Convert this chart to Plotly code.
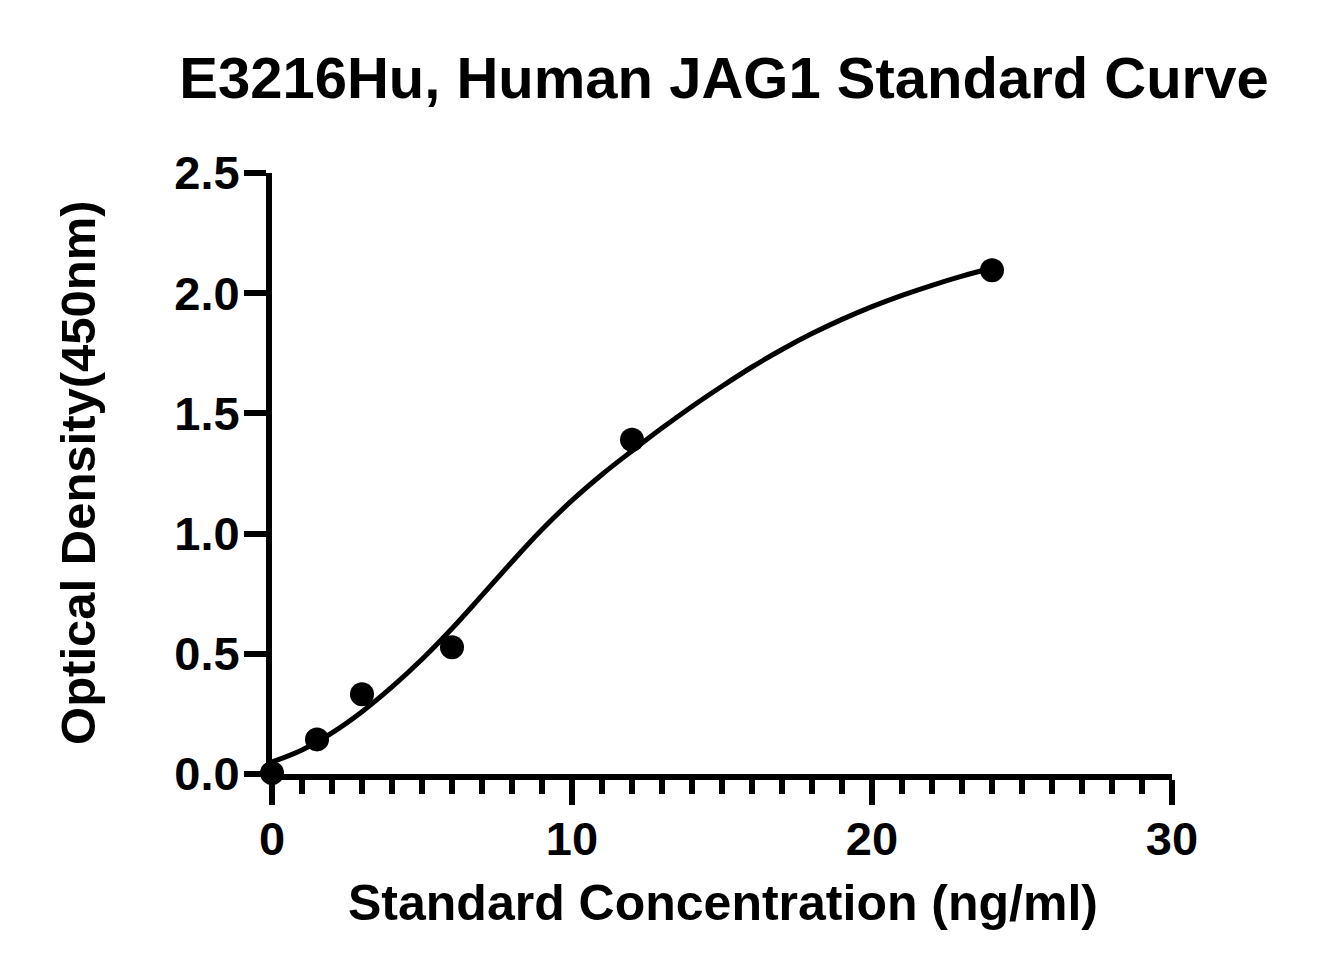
import plotly.graph_objects as go

# Measured standards
conc = [0, 1.5, 3, 6, 12, 24]
od = [0.004, 0.144, 0.332, 0.527, 1.39, 2.095]

# Fitted curve (one reading per unit of concentration)
curve_x = list(range(0, 25))
curve_y = [0.05, 0.100, 0.171, 0.259, 0.362, 0.477, 0.605, 0.743, 0.883, 1.017,
           1.138, 1.246, 1.344, 1.439, 1.529, 1.613, 1.693, 1.766, 1.832, 1.891,
           1.944, 1.991, 2.033, 2.071, 2.105]

x_ticks = [0, 10, 20, 30]
y_ticks = [0.0, 0.5, 1.0, 1.5, 2.0, 2.5]
y_tick_text = ["0.0", "0.5", "1.0", "1.5", "2.0", "2.5"]

title_text = "E3216Hu, Human JAG1 Standard Curve"
x_title = "Standard Concentration (ng/ml)"
y_title = "Optical Density(450nm)"

FONT = "Liberation Sans, Arial, Helvetica, sans-serif"

fig = go.Figure()
fig.add_trace(go.Scatter(x=curve_x, y=curve_y, mode="lines",
                         line=dict(color="black", width=5, shape="spline"),
                         cliponaxis=False, hoverinfo="skip"))
fig.add_trace(go.Scatter(x=conc, y=od, mode="markers",
                         marker=dict(color="black", size=24),
                         cliponaxis=False))

fig.update_layout(
    width=1335, height=975,
    margin=dict(l=264, r=171, t=165, b=209),
    paper_bgcolor="white", plot_bgcolor="white",
    showlegend=False,
    font=dict(family=FONT, color="black"),
    title=dict(text="<b>%s</b>" % title_text, x=0.5363, xanchor="center",
               y=1 - 70 / 975, yanchor="middle",
               font=dict(size=58, family=FONT, color="black")),
)

fig.update_xaxes(
    range=[0, 30], tickvals=x_ticks, ticktext=[str(v) for v in x_ticks],
    showgrid=False, zeroline=False,
    showline=True, linecolor="black", linewidth=6,
    ticks="outside", ticklen=25, tickwidth=6, tickcolor="black",
    minor=dict(dtick=1, ticks="outside", ticklen=14, tickwidth=6, tickcolor="black", showgrid=False),
    tickfont=dict(size=47, family=FONT, color="black", weight="bold"),
    ticklabelstandoff=-6,
)
fig.update_yaxes(
    range=[0, 2.5], tickvals=y_ticks, ticktext=y_tick_text,
    showgrid=False, zeroline=False,
    showline=True, linecolor="black", linewidth=6,
    ticks="outside", ticklen=22, tickwidth=6, tickcolor="black",
    tickfont=dict(size=47, family=FONT, color="black", weight="bold"),
    ticklabelstandoff=-5,
)

fig.add_annotation(text="<b>%s</b>" % x_title, xref="paper", yref="paper",
                   x=0.5015, y=-0.2146, xanchor="center", yanchor="middle",
                   showarrow=False, font=dict(size=50, family=FONT, color="black"))
fig.add_annotation(text="<b>%s</b>" % y_title, xref="paper", yref="paper",
                   x=-0.2156, y=0.5025, xanchor="center", yanchor="middle",
                   textangle=-90, showarrow=False,
                   font=dict(size=49, family=FONT, color="black"))

fig.write_html("out.html")
